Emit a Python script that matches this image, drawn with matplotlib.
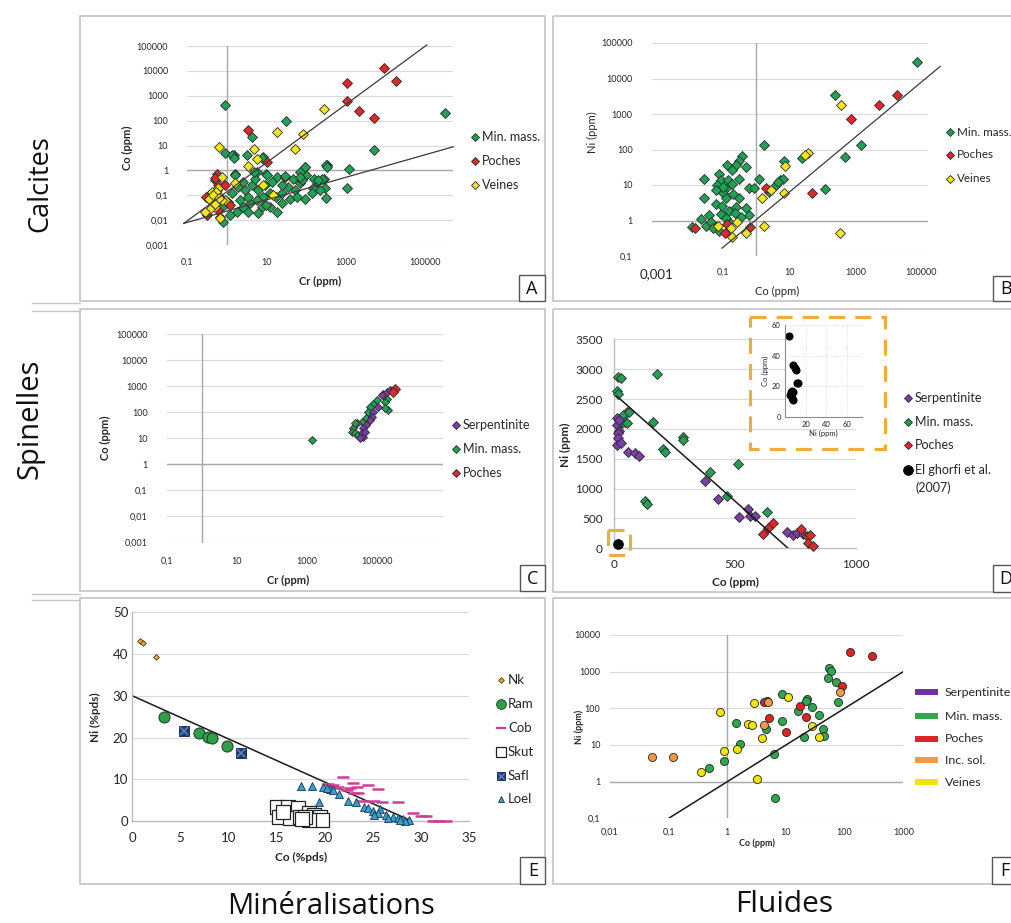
import numpy as np
import matplotlib
matplotlib.use("Agg")
import matplotlib.pyplot as plt
from matplotlib.patches import Rectangle
from matplotlib.ticker import NullLocator

# ---------------- DATA ----------------
# Panel A : Calcites, Cr (ppm) vs Co (ppm)
A_min = [(0.91,4.9),(1.5,4.0),(3.2,4.0),(8.3,3.6),(5.8,0.85),(10,0.74),(18,0.54),(30,0.54),(48,0.47),
         (93,1.35),(100,0.63),(186,0.34),(275,0.47),(330,1.6),(300,0.19),(150,0.19),(71,0.30),(35,0.21),
         (52,0.16),(93,0.074),(25,0.12),(17,0.085),(12,0.12),(8.3,0.085),(5.8,0.063),(3.9,0.047),(2.6,0.034),
         (3.5,0.021),(7.6,0.034),(12,0.034),(18,0.021),(1.8,0.021),(1.2,0.016),(0.83,0.0085),(1.6,0.74),
         (1.9,0.21),(2.9,0.16),(4.3,0.25),(6.3,0.16),(9.3,0.25),(5.1,0.47),(2.6,0.34),(1.35,0.12),(1.1,0.054),
         (2.2,0.063),(3.5,0.085),(25,0.047),(40,0.074),(58,0.085),(138,0.12),(224,0.16),(78,0.4),(13.5,0.34),
         (25,0.25),(6.3,0.019),(10,0.04),(0.74,0.034),(0.68,0.013),(0.9,430),(32,96),(4.4,21),(316000,195),
         (5100,6.6),(1.35,4.2),(1.5,3.1),(7.7,3.2),(316,1.7),(330,1.4),(1180,1.1),(1070,0.2),(96,1.4),
         (72,0.9),(10.6,0.65),(1.6,0.65),(4.8,0.9),(30,0.6),(250,0.45),(320,0.08),(70,0.55),(158,0.45),(200,0.4)]
A_poches = [(9000,12600),(18600,3900),(1070,3160),(1070,620),(2100,250),(5100,130),(3.5,42),(10.2,2.2),
            (0.56,0.74),(0.51,0.4),(0.62,0.25),(0.92,0.26),(0.35,0.1),(1.2,0.04),(0.31,0.016),(0.56,0.07),
            (0.42,0.055),(0.62,0.025),(0.5,0.5),(0.3,0.085)]
A_veines = [(290,300),(18.6,34),(83,29),(53,7.3),(4.8,7.2),(5.8,3),(3.5,1.55),(0.63,8.9),(0.75,0.56),
            (1.6,0.3),(8.1,0.26),(14.4,0.1),(0.92,0.065),(0.67,0.012),(0.56,0.16),(0.62,0.1),(0.46,0.055),
            (0.35,0.07),(0.51,0.034),(0.38,0.029),(0.28,0.022),(0.75,0.063),(0.42,0.14),(0.6,0.2),
            (0.55,0.13),(0.45,0.1),(0.5,0.045),(0.65,0.08)]
A_line_up = [(0.083, 0.0074), (110000, 110000)]
A_line_lo = [(0.083, 0.0074), (510000, 8.9)]

# Panel B : Calcites, Co (ppm) vs Ni (ppm)
B_min = [(76000,29000),(250,3470),(1500,138),(500,62),(123,7.6),(24,58),(1.7,130),(6.9,47),(0.37,65),
         (0.31,47),(0.25,37),(0.13,36),(0.49,32),(0.076,21),(0.19,27),(0.026,14.5),(0.085,14),(0.145,14),
         (0.31,14.5),(1.2,15),(0.064,10),(0.126,8),(0.06,7.2),(0.1,6),(0.63,8),(0.89,8),(4.1,10),(5.2,14),
         (0.026,4.2),(0.06,3.0),(0.126,4.2),(0.31,4.2),(0.49,2.2),(0.25,2.4),(0.15,1.9),(0.085,1.55),
         (0.037,1.4),(0.021,1.1),(0.03,0.72),(0.0115,0.65),(0.057,0.72),(0.076,0.51),(0.35,1.25),(0.15,0.93),
         (0.042,0.9),(0.63,1.4),(0.1,9),(0.18,11),(6.6,15),(4.5,12),(2.5,6.5),(0.2,5.5),(0.09,2.5),
         (0.12,1.2),(0.05,0.6),(0.23,1.6)]
B_poches = [(18600,3400),(5300,1800),(720,700),(48,6.0),(2.0,8),(0.67,0.65),(0.0145,0.6),(0.115,0.45),(0.135,0.8)]
B_veines = [(380,1740),(36,81),(30,70),(7.4,34),(6.9,5.8),(2.9,7.2),(1.5,4.2),(1.7,0.69),(340,0.45),
            (0.26,0.9),(0.072,0.68),(0.17,0.6),(0.19,0.35),(0.49,0.44)]
B_line = [(0.093, 0.166), (370000, 21900)]

# Panel C : Spinelles, Cr (ppm) vs Co (ppm)
C_serp = [(138000,450),(195000,590),(240000,690),(112000,158),(80000,102),(72000,66),(64000,50),
          (51000,32),(42000,24),(37000,15.5),(42000,11.5),(33000,10),(47000,18)]
C_min = [(1450,8.5),(155000,510),(195000,330),(215000,120),(80000,215),(100000,290),(64000,158),
         (58000,102),(51000,58),(37000,43),(27000,37),(21500,24),(19300,18),(24000,15.5),(30000,13.4),
         (175000,245),(24000,37),(173000,140)]
C_poches = [(330000,790),(290000,590)]

# Panel D : Spinelles, Co (ppm) vs Ni (ppm)
D_serp = [(10,2189),(10,2066),(21,1965),(17,1926),(17,1843),(10,1731),(26,1759),(58,1619),(86,1602),
          (104,1552),(376,1128),(431,821),(518,530),(555,659),(562,542),(583,547),(714,279),(742,223),
          (758,251),(783,234),(20,2150)]
D_min = [(17,2875),(26,2859),(175,2920),(10,2635),(17,2580),(51,2278),(35,2233),(44,2122),(30,2094),
         (51,2094),(162,2110),(203,1664),(210,1619),(286,1870),(283,1815),(396,1284),(514,1407),(465,877),
         (631,614),(127,793),(134,737),(62,2290)]
D_poches = [(617,246),(638,346),(659,419),(772,324),(797,207),(811,223),(804,84),(825,45)]
D_ghorfi = [(17,67)]
D_line = [(10, 2550), (720, 0)]
D_inset = [(4.3,52.6),(8.2,33.6),(10.8,30.8),(11.5,22.3),(13.1,22.3),(7.2,16.9),(5.6,16.2),(4.9,14.5),
           (6.6,12.3),(8.2,10.8),(8.2,16.2),(9.5,32)]

# Panel E : Minéralisations, Co (%pds) vs Ni (%pds)
E_nk = [(0.8,43.1),(1.14,42.7),(2.46,39.4)]
E_ram = [(3.29,25.0),(6.92,21.2),(7.89,20.2),(8.3,20.0),(9.8,18.05)]
E_cob = [(20.3,8.9),(20.8,8.6),(21.9,10.6),(21.4,8.2),(22.3,7.4),(22.6,8.0),(22.9,9.0),(23.3,8.2),
         (23.4,6.6),(24.5,8.6),(25.5,7.6),(24.0,4.9),(25.1,4.9),(25.9,4.5),(27.6,4.6),(29.2,1.8),(30.0,1.3),
         (30.5,1.3),(31.2,0.1),(31.9,0.1),(32.6,0.1),(23.0,6.8),(21.0,7.8)]
E_skut = [(15.0,3.4),(16.2,3.4),(17.2,3.0),(15.2,1.0),(16.4,0.8),(17.4,1.0),(18.4,1.8),(18.9,1.4),
          (19.5,1.0),(19.7,0.2),(18.3,0.2),(17.9,1.0),(15.7,2.2),(17.6,0.5)]
E_safl = [(5.4,21.6),(11.28,16.2)]
E_loel = [(17.5,8.5),(18.7,8.5),(19.4,4.6),(19.8,8.2),(20.5,7.6),(21.5,6.4),(22.4,4.8),(23.2,4.6),
          (24.1,3.4),(24.5,3.2),(25.0,2.4),(25.7,2.9),(25.5,1.8),(26.4,1.4),(27.1,1.0),(27.6,0.8),(28.1,0.5),
          (28.7,0.2),(28.3,0.05),(27.8,0.2),(26.6,0.6),(25.1,1.4),(20.2,8.0),(20.8,7.4)]
E_line = [(0, 30), (29, 0)]

# Panel F : Fluides, Co (ppm) vs Ni (ppm)
F_poches = [(122,3370),(296,2740),(91,415),(17.5,116),(5.1,56),(4.3,152),(10,23),(21.7,59)]
F_min = [(55,1290),(59,1050),(52,690),(70,535),(77,152),(8.7,240),(4.8,158),(23,177),(21.6,160),(28,110),
         (16,85),(36,66),(8.5,45),(4.6,28),(42,28),(44,17.6),(20,17),(1.38,39),(1.66,10.4),(0.87,3.7),
         (0.49,2.4),(6.3,5.7),(6.4,0.35)]
F_incsol = [(0.052,4.8),(0.118,4.8),(4.2,35),(5.0,146),(82,285)]
F_veines = [(0.74,78),(2.8,137),(10.8,210),(2.25,38),(2.6,36),(3.9,15.2),(0.87,6.9),(1.48,7.8),
            (0.36,1.87),(3.2,1.15),(27.6,33),(36,17)]
F_line = [(0.1, 0.1), (1000, 1000)]

log_ticks_8 = [0.001, 0.01, 0.1, 1, 10, 100, 1000, 10000, 100000]
log_labels_8 = ["0,001", "0,01", "0,1", "1", "10", "100", "1000", "10000", "100000"]

# ---------------- STYLE ----------------
GREEN = "#23A055"; RED = "#D92B2B"; YEL = "#F3E61E"; PURP = "#7B3FA6"; ORANGE = "#F0924A"
EDGE = "#2A2A2A"; GRID = "#DADADA"; AXL = "#A8A8A8"; TXT = "#262626"
LATO = ["Lato", "DejaVu Sans"]; OPEN = ["Open Sans", "DejaVu Sans"]
plt.rcParams["font.family"] = LATO

W, H = 1011, 923
fig = plt.figure(figsize=(W / 100, H / 100), dpi=100)


def add_ax(x0, y0, x1, y1):
    return fig.add_axes([x0 / W, 1 - y1 / H, (x1 - x0) / W, (y1 - y0) / H])


def xy(pairs):
    a = np.array(pairs, dtype=float)
    return a[:, 0], a[:, 1]


def pts(ax, pairs, marker, ms, fc, ec=EDGE, mew=0.6, z=3):
    x, y = xy(pairs)
    ax.plot(x, y, linestyle="none", marker=marker, ms=ms, mfc=fc, mec=ec, mew=mew, clip_on=False, zorder=z)


def style_log(ax, xlim, ylim, xt, xl, yt, yl, fs, padx, pady):
    ax.set_xscale("log"); ax.set_yscale("log")
    ax.set_xlim(xlim); ax.set_ylim(ylim)
    for s in ax.spines.values():
        s.set_visible(False)
    ax.set_xticks(xt); ax.set_xticklabels(xl)
    ax.set_yticks(yt); ax.set_yticklabels(yl)
    ax.xaxis.set_minor_locator(NullLocator()); ax.yaxis.set_minor_locator(NullLocator())
    ax.tick_params(axis="x", length=0, labelsize=fs, pad=padx, colors=TXT)
    ax.tick_params(axis="y", length=0, labelsize=fs, pad=pady, colors=TXT)
    for v in yt:
        ax.axhline(v, color=GRID, lw=0.8, zorder=0)
    ax.axvline(1, color=AXL, lw=1.0, zorder=1)
    ax.axhline(1, color=AXL, lw=1.0, zorder=1)
    ax.patch.set_alpha(0)


# ---------------- PANEL A ----------------
axA = add_ax(187, 46, 453, 245)
style_log(axA, (0.1, 10 ** 5.7), (0.001, 100000), [0.1, 10, 1000, 100000], ["0,1", "10", "1000", "100000"],
          log_ticks_8, log_labels_8, 6.5, 9, 13.5)
pts(axA, A_min, "D", 4.9, GREEN)
pts(axA, A_poches, "D", 4.9, RED)
pts(axA, A_veines, "D", 4.9, YEL)
for ln in (A_line_up, A_line_lo):
    lx, ly = xy(ln)
    axA.plot(lx, ly, color="#3A3A3A", lw=0.9, zorder=4, clip_on=False)

# ---------------- PANEL B ----------------
axB = add_ax(652, 43, 928, 256)
style_log(axB, (10 ** -3.15, 10 ** 5.2), (0.1, 100000), [0.001, 0.1, 10, 1000, 100000],
          ["0,001", "0,1", "10", "1000", "100000"],
          [0.1, 1, 10, 100, 1000, 10000, 100000], ["0,1", "1", "10", "100", "1000", "10000", "100000"],
          6.5, 8.5, 14)
axB.get_xticklabels()[0].set_fontsize(9.5)
pts(axB, B_min, "D", 5.1, GREEN)
pts(axB, B_poches, "D", 5.1, RED)
pts(axB, B_veines, "D", 5.1, YEL)
lx, ly = xy(B_line)
axB.plot(lx, ly, color="#3A3A3A", lw=0.9, zorder=4, clip_on=False)

# ---------------- PANEL C ----------------
axC = add_ax(167, 334, 443, 542.5)
style_log(axC, (0.1, 10 ** 6.9), (0.001, 100000), [0.1, 10, 1000, 100000], ["0,1", "10", "1000", "100000"],
          log_ticks_8, log_labels_8, 6.5, 10.5, 14)
pts(axC, C_min, "D", 4.3, GREEN)
pts(axC, C_serp, "D", 4.3, PURP)
pts(axC, C_poches, "D", 4.7, RED)

# ---------------- PANEL D ----------------
axD = add_ax(614.3, 339.3, 855.7, 548.3)
axD.set_xlim(0, 1000); axD.set_ylim(0, 3500)
for k in ("top", "right"):
    axD.spines[k].set_visible(False)
for k in ("left", "bottom"):
    axD.spines[k].set_color("#BDBDBD"); axD.spines[k].set_linewidth(1.0)
axD.set_xticks([0, 500, 1000]); axD.set_yticks(np.arange(0, 3501, 500))
axD.tick_params(length=0, labelsize=8.5, colors=TXT)
axD.tick_params(axis="x", pad=8); axD.tick_params(axis="y", pad=8.5)
for v in np.arange(500, 3501, 500):
    axD.axhline(v, color=GRID, lw=0.8, zorder=0)
axD.patch.set_alpha(0)
pts(axD, D_min, "D", 4.7, GREEN)
pts(axD, D_serp, "D", 4.7, PURP)
pts(axD, D_poches, "D", 4.7, RED)
pts(axD, D_ghorfi, "o", 7, "black", ec="black")
lx, ly = xy(D_line)
axD.plot(lx, ly, color="#1A1A1A", lw=1.1, zorder=4)

# inset
axI = add_ax(785, 325, 862, 417)
axI.set_xlim(0, 75); axI.set_ylim(0, 60)
for k in ("top", "right"):
    axI.spines[k].set_visible(False)
for k in ("left", "bottom"):
    axI.spines[k].set_color("#8C8C8C"); axI.spines[k].set_linewidth(0.8)
axI.set_xticks([20, 40, 60]); axI.set_yticks([0, 20, 40, 60])
axI.tick_params(length=0, labelsize=5.5, colors=TXT, pad=3)
for v in [20, 40, 60]:
    axI.axhline(v, color="#D5D5D5", lw=0.6, ls=":", zorder=0)
    axI.axvline(v, color="#D5D5D5", lw=0.6, ls=":", zorder=0)
axI.set_xlabel("Ni (ppm)", fontsize=5.5, labelpad=1, color=TXT)
axI.set_ylabel("Co (ppm)", fontsize=5.5, labelpad=2, color=TXT)
ix, iy = xy(D_inset)
axI.plot(ix, iy, "o", ms=4.8, color="black", clip_on=False)

# ---------------- PANEL E ----------------
axE = add_ax(132.3, 612.3, 469.3, 821)
axE.set_xlim(0, 35); axE.set_ylim(0, 50)
for k in ("top", "right"):
    axE.spines[k].set_visible(False)
for k in ("left", "bottom"):
    axE.spines[k].set_color("#BDBDBD"); axE.spines[k].set_linewidth(1.0)
axE.set_xticks(np.arange(0, 36, 5)); axE.set_yticks(np.arange(0, 51, 10))
axE.tick_params(length=0, labelsize=9.5, colors=TXT)
axE.tick_params(axis="x", pad=8); axE.tick_params(axis="y", pad=3)
for v in np.arange(10, 51, 10):
    axE.axhline(v, color=GRID, lw=0.8, zorder=0)
axE.patch.set_alpha(0)
lx, ly = xy(E_line)
axE.plot(lx, ly, color="#1A1A1A", lw=1.1, zorder=2)
pts(axE, E_skut, "s", 9.5, "white", ec="#222222", mew=0.9, z=3)
x, y = xy(E_cob)
axE.plot(x, y, linestyle="none", marker="_", ms=9, mew=1.8, color="#CC3E97", zorder=3, clip_on=False)
pts(axE, E_loel, "^", 5.2, "#3A9FD0", ec="#1B3550", mew=0.6, z=4)
pts(axE, E_nk, "D", 2.9, "#E8B030", ec="#4A3A10", mew=0.6)
pts(axE, E_ram, "o", 8, "#2E9E4A", ec="#1E3A1E", mew=0.7)
pts(axE, E_safl, "s", 7.5, "#1F3A78", ec="#10204A", mew=0.6)
x, y = xy(E_safl)
axE.plot(x, y, linestyle="none", marker="x", ms=6, mew=1.2, color="#5C7FC0", zorder=4)

# ---------------- PANEL F ----------------
FGREEN = "#2EA84E"; FRED = "#E02222"; FYEL = "#F2E600"; FORA = "#F29A4A"; FPURP = "#7030A0"
axF = add_ax(610, 635, 903.3, 818.3)
style_log(axF, (0.01, 1000), (0.1, 10000), [0.01, 0.1, 1, 10, 100, 1000],
          ["0,01", "0,1", "1", "10", "100", "1000"],
          [0.1, 1, 10, 100, 1000, 10000], ["0,1", "1", "10", "100", "1000", "10000"], 6.5, 7, 7)
pts(axF, F_min, "o", 5.8, FGREEN, ec="#222222")
pts(axF, F_poches, "o", 5.8, FRED, ec="#222222")
pts(axF, F_incsol, "o", 5.8, FORA, ec="#222222")
pts(axF, F_veines, "o", 5.8, FYEL, ec="#222222")
lx, ly = xy(F_line)
axF.plot(lx, ly, color="#1A1A1A", lw=1.1, zorder=4)

# ---------------- OVERLAY (frames, labels, legends) ----------------
ov = fig.add_axes([0, 0, 1, 1])
ov.set_xlim(0, W); ov.set_ylim(H, 0); ov.axis("off"); ov.set_zorder(10); ov.patch.set_alpha(0)

FR = "#C4C4C4"
for (x0, y0, x1, y1) in [(80, 16, 545, 301), (553, 16, 1014, 301), (80, 309, 545, 591), (553, 309, 1014, 592),
                         (80, 598, 545, 884), (553, 598, 1014, 884)]:
    ov.add_patch(Rectangle((x0, y0), x1 - x0, y1 - y0, fill=False, ec=FR, lw=1.2, clip_on=False))
for yy in (303, 311, 594, 600):
    ov.plot([32, 80], [yy, yy], color=FR, lw=1.0)

# panel letters
for (x0, y0, x1, y1, s) in [(519, 275, 545, 301, "A"), (993, 276, 1014, 301, "B"), (520, 565, 545, 591, "C"),
                            (993, 565, 1014, 592, "D"), (520, 857, 545, 884, "E"), (992, 857, 1014, 884, "F")]:
    ov.add_patch(Rectangle((x0, y0), x1 - x0, y1 - y0, fc="white", ec="#555555", lw=1.0, clip_on=False))
    ov.text(x0 + 13, (y0 + y1) / 2 + 1, s, ha="center", va="center", fontsize=13, family=OPEN, color="#111111")

# row / column titles
ov.text(40, 184, "Calcites", rotation=90, ha="center", va="center", fontsize=19.5, family=OPEN, color="#111111")
ov.text(30, 419, "Spinelles", rotation=90, ha="center", va="center", fontsize=21, family=OPEN, color="#111111")
ov.text(331, 907, "Minéralisations", ha="center", va="center", fontsize=21, family=OPEN, color="#111111")
ov.text(784, 904, "Fluides", ha="center", va="center", fontsize=21.5, family=OPEN, color="#111111")

# axis titles
ov.text(127, 148, "Co (ppm)", rotation=90, ha="center", va="center", fontsize=8, weight="bold", color=TXT)
ov.text(320, 281, "Cr (ppm)", ha="center", va="center", fontsize=8, weight="bold", color=TXT)
ov.text(592, 132, "Ni (ppm)", rotation=90, ha="center", va="center", fontsize=8, color=TXT)
ov.text(777, 291, "Co (ppm)", ha="center", va="center", fontsize=8, color=TXT)
ov.text(105, 438, "Co (ppm)", rotation=90, ha="center", va="center", fontsize=8, weight="bold", color=TXT)
ov.text(288, 580, "Cr (ppm)", ha="center", va="center", fontsize=8, weight="bold", color=TXT)
ov.text(565, 445, "Ni (ppm)", rotation=90, ha="center", va="center", fontsize=8.5, weight="bold", color=TXT)
ov.text(735, 582, "Co (ppm)", ha="center", va="center", fontsize=8.5, weight="bold", color=TXT)
ov.text(95, 717, "Ni (%pds)", rotation=90, ha="center", va="center", fontsize=8.5, weight="bold", color=TXT)
ov.text(301, 857, "Co (%pds)", ha="center", va="center", fontsize=8.5, weight="bold", color=TXT)
ov.text(579, 727, "Ni (ppm)", rotation=90, ha="center", va="center", fontsize=6.5, weight="bold", color=TXT)
ov.text(757, 843, "Co (ppm)", ha="center", va="center", fontsize=6.5, weight="bold", color=TXT)


def leg_marker(x, y, label, marker, ms, fc, ec=EDGE, mew=0.6, fs=9, dx=7):
    ov.plot([x], [y], marker=marker, ms=ms, mfc=fc, mec=ec, mew=mew, linestyle="none", clip_on=False)
    ov.text(x + dx, y, label, ha="left", va="center", fontsize=fs, color=TXT, clip_on=False)


for (y, lab, c) in [(137, "Min. mass.", GREEN), (161, "Poches", RED), (185, "Veines", YEL)]:
    leg_marker(475, y, lab, "D", 3.6, c)
for (y, lab, c) in [(132, "Min. mass.", GREEN), (155, "Poches", RED), (179, "Veines", YEL)]:
    leg_marker(950, y, lab, "D", 3.6, c, fs=8.4)
for (y, lab, c) in [(425, "Serpentinite", PURP), (449, "Min. mass.", GREEN), (473, "Poches", RED)]:
    leg_marker(456, y, lab, "D", 3.6, c)
for (y, lab, c) in [(398, "Serpentinite", PURP), (422, "Min. mass.", GREEN), (445, "Poches", RED)]:
    leg_marker(908, y, lab, "D", 3.6, c)
leg_marker(908, 470, "El ghorfi et al.", "o", 7, "black", ec="black")
ov.text(915, 488, "(2007)", ha="left", va="center", fontsize=9, color=TXT)

leg_marker(501, 680, "Nk", "D", 2.9, "#E8B030", ec="#4A3A10", fs=9.5)
leg_marker(501, 704, "Ram", "o", 7, "#2E9E4A", ec="#1E3A1E", fs=9.5)
ov.plot([497, 505], [728, 728], color="#CC3E97", lw=1.6)
ov.text(508, 728, "Cob", ha="left", va="center", fontsize=9.5, color=TXT)
leg_marker(501, 752, "Skut", "s", 6.5, "white", ec="#222222", mew=0.9, fs=9.5)
leg_marker(501, 776, "Safl", "s", 6, "#1F3A78", ec="#10204A", fs=9.5)
ov.plot([501], [776], marker="x", ms=4.5, mew=1.0, color="#5C7FC0")
leg_marker(501, 799, "Loel", "^", 5, "#3A9FD0", ec="#1B3550", fs=9.5)

for (y, lab, c) in [(692, "Serpentinite", FPURP), (716, "Min. mass.", FGREEN), (739, "Poches", FRED),
                    (760, "Inc. sol.", FORA), (782, "Veines", FYEL)]:
    ov.plot([915, 938], [y, y], color=c, lw=4.3, solid_capstyle="butt")
    ov.text(945, y, lab, ha="left", va="center", fontsize=8.9, color=TXT, clip_on=False)

# dashed orange frames in D
DASH = dict(fill=False, ec="#E9AE3C", lw=2.3, ls=(0, (5, 3.2)), clip_on=False)
ov.add_patch(Rectangle((750, 317), 135, 132, **DASH))
ov.add_patch(Rectangle((608, 530), 22, 25, **DASH))

fig.savefig("out.png", dpi=100)
